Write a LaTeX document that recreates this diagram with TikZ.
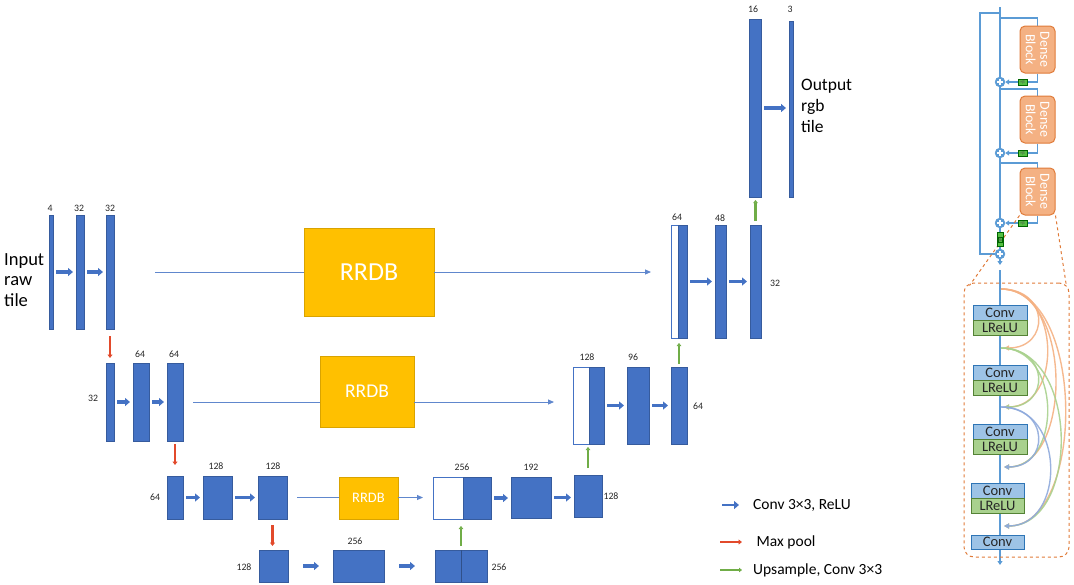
\documentclass[tikz,border=0pt]{standalone}
\usepackage{fontspec}
\setmainfont{Carlito}
\usetikzlibrary{arrows.meta,calc,backgrounds}
\definecolor{cblue}{HTML}{4472C4}
\definecolor{cred}{HTML}{E24A2B}
\definecolor{cgreen}{HTML}{70AD47}
\definecolor{cyel}{HTML}{FFC000}
\definecolor{pblue}{HTML}{5B9BD5}
\definecolor{dorange}{HTML}{F4B183}
\definecolor{dborder}{HTML}{E07B39}
\definecolor{convfill}{HTML}{9DC3E6}
\definecolor{convdraw}{HTML}{2E75B6}
\definecolor{lrfill}{HTML}{A9D18E}
\definecolor{lrdraw}{HTML}{548235}
\definecolor{gbfill}{HTML}{55C043}
\definecolor{ccurve}{HTML}{8FAADC}
\newcommand\blk[6][bar]{\node[#1,minimum width={(#5-#3)*1pt},minimum height={(#6-#4)*1pt}] (#2) at ({(#3+#5)/2},{(#4+#6)/2}) {};}
\tikzset{
 bar/.style={fill=cblue, draw=cblue!80!black, line width=0.4pt, inner sep=0pt, outer sep=0pt},
 wbar/.style={fill=white, draw=cblue, line width=0.8pt, inner sep=0pt, outer sep=0pt},
 lab/.style={font=\fontsize{9.8}{11}\selectfont, text=black!85, inner sep=0pt},
 convarrow/.style={draw=cblue, line width=3.2pt, -{Triangle[length=5pt,width=8pt]}},
 gap/.style={shorten <=3pt, shorten >=3pt},
 pool/.style={draw=cred, line width=2.2pt, -{Triangle[length=3.5pt,width=5pt]}},
 ups/.style={draw=cgreen, line width=2.2pt, -{Triangle[length=3pt,width=4.5pt]}},
 skipl/.style={draw=cblue!85, line width=0.9pt},
 skipa/.style={skipl, -{Triangle[length=6pt,width=5pt]}},
 rrdb/.style={fill=cyel, draw=cyel!85!black, line width=0.6pt, text=white, inner sep=0pt},
 legtext/.style={anchor=west, inner sep=0pt, font=\fontsize{15.5}{17}\selectfont},
 rline/.style={draw=pblue, line width=1.5pt},
 rarrow/.style={rline, -{Triangle[length=4pt,width=5pt]}},
 plus/.style={circle, fill=pblue, draw=pblue, minimum size=10pt, inner sep=0pt,
   path picture={\draw[white,line width=1.2pt] ([yshift=-2.3pt]path picture bounding box.north) -- ([yshift=2.3pt]path picture bounding box.south) ([xshift=2.3pt]path picture bounding box.west) -- ([xshift=-2.3pt]path picture bounding box.east);}},
 dblock/.style={fill=dorange, draw=dborder, line width=1pt, rounded corners=5pt, minimum width=35pt, minimum height=47pt, inner sep=0pt},
 dtext/.style={text=white, align=center, inner sep=0pt, font=\fontsize{14}{14.5}\selectfont},
 gbox/.style={fill=gbfill, draw=green!40!black, line width=0.5pt, inner sep=0pt, font=\fontsize{4.5}{5}\selectfont, text=black!70},
 convb/.style={fill=convfill, draw=convdraw, line width=0.8pt, inner sep=0pt, font=\fontsize{14.5}{15}\selectfont, text=black!85},
 lrb/.style={fill=lrfill, draw=lrdraw, line width=0.8pt, inner sep=0pt, font=\fontsize{14.5}{15}\selectfont, text=black!85},
 ocurve/.style={draw=dorange, line width=1.4pt, opacity=0.9, -{Triangle[length=5pt,width=5pt]}},
 gcurve/.style={draw=lrfill, line width=1.4pt, opacity=0.9, -{Triangle[length=5pt,width=5pt]}},
 bcurve/.style={draw=ccurve, line width=1.4pt, opacity=0.9, -{Triangle[length=5pt,width=5pt]}},
}
\begin{document}
\begin{tikzpicture}[x=1pt,y=-1pt]
\useasboundingbox (0,0) rectangle (1074,584);

% ---------------- row 1
\node[anchor=west, align=left, inner sep=0pt, font=\fontsize{18.5}{20.5}\selectfont] (inp) at (4,280) {Input\\raw\\tile};
\blk{b1}{49}{215}{53}{329}
\blk{b2}{76}{215}{84}{329}
\blk{b3}{106}{215}{114}{329}
\node[lab] (l1) at (50,208) {4};
\node[lab] (l2) at (79,208) {32};
\node[lab] (l3) at (110,208) {32};
\draw[convarrow,gap] (b1.east) -- (b1.east -| b2.west);
\draw[convarrow,gap] (b2.east) -- (b2.east -| b3.west);
\node[rrdb, minimum width=130pt, minimum height=88pt, font=\fontsize{26}{28}\selectfont] (rrdb1) at (369,272) {RRDB};
\blk[wbar]{c1w}{671}{225}{678}{338}
\blk{c1b}{678}{225}{687}{338}
\node[lab] (l4) at (677,217) {64};
\blk{r1e}{715}{225}{726}{338}
\node[lab] (l5) at (720,218) {48};
\blk{r1f}{750}{225}{761}{338}
\node[lab] (l6) at (775,283) {32};
\draw[convarrow,gap] (c1b.east) -- (c1b.east -| r1e.west);
\draw[convarrow,gap] (r1e.east) -- (r1e.east -| r1f.west);
\blk{b16}{749}{19}{761}{197}
\node[lab] (l7) at (753,9) {16};
\blk{b3o}{789}{21}{793}{197}
\node[lab] (l8) at (790,9) {3};
\draw[convarrow,gap] (b16.east) -- (b16.east -| b3o.west);
\node[anchor=west, align=left, inner sep=0pt, font=\fontsize{17.5}{21}\selectfont] (outp) at (801,106) {Output\\rgb\\tile};
\coordinate (t1) at ([xshift=-20pt]c1w.west);
\draw[skipl] ([xshift=41pt]b3.east) -- (rrdb1.west);
\draw[skipa] (rrdb1.east) -- (t1 |- rrdb1.east);
\draw[ups, shorten <=4pt, shorten >=3pt] (r1f.north) -- (r1f.north |- b16.south);

% ---------------- row 2
\blk{r2a}{106}{363}{114}{441}
\node[lab] (l9) at (93,398) {32};
\blk{r2b}{133}{363}{149}{441}
\node[lab] (l10) at (140,354) {64};
\blk{r2c}{167}{363}{183}{441}
\node[lab] (l11) at (174,354) {64};
\draw[convarrow,gap] (r2a.east) -- (r2a.east -| r2b.west);
\draw[convarrow,gap] (r2b.east) -- (r2b.east -| r2c.west);
\draw[pool, shorten <=7pt, shorten >=5pt] (b3.south) -- (r2a.north);
\node[rrdb, minimum width=94pt, minimum height=71pt, font=\fontsize{19.5}{21}\selectfont] (rrdb2) at (367,391.5) {RRDB};
\blk[wbar]{c2w}{573}{367}{589}{444}
\blk{c2b}{589}{367}{604}{444}
\node[lab] (l12) at (587,357) {128};
\blk{r2e}{627}{367}{649}{444}
\node[lab] (l13) at (633,357) {96};
\blk{r2f}{671}{367}{687}{444}
\node[lab] (l14) at (698,406) {64};
\draw[convarrow,gap] (c2b.east) -- (c2b.east -| r2e.west);
\draw[convarrow,gap] (r2e.east) -- (r2e.east -| r2f.west);
\coordinate (t2) at ([xshift=-19pt]c2w.west);
\draw[skipl] ([xshift=10pt]r2c.east) -- (r2c.east -| rrdb2.west);
\draw[skipa] (r2c.east -| rrdb2.east) -- (t2 |- r2c.east);
\draw[ups, shorten <=3pt, shorten >=5pt] (r2f.north) -- (r2f.north |- c1b.south);

% ---------------- row 3
\blk{r3a}{167}{476}{183}{519}
\node[lab] (l15) at (155,497) {64};
\blk{r3b}{203}{476}{232}{519}
\node[lab] (l16) at (216,466) {128};
\blk{r3c}{258}{476}{287}{519}
\node[lab] (l17) at (273,466) {128};
\draw[convarrow,gap] (r3a.east) -- (r3a.east -| r3b.west);
\draw[convarrow,gap] (r3b.east) -- (r3b.east -| r3c.west);
\draw[pool, shorten <=3pt, shorten >=11pt] (r2c.south) -- (r3a.north);
\node[rrdb, minimum width=59pt, minimum height=42pt, font=\fontsize{14.5}{16}\selectfont] (rrdb3) at (368.5,498) {RRDB};
\blk[wbar]{c3w}{433}{477}{463}{519}
\blk{c3b}{463}{477}{491}{519}
\node[lab] (l18) at (462,467) {256};
\blk{r3d}{511}{477}{551}{518}
\node[lab] (l19) at (531,467) {192};
\blk{r3e}{574}{475}{602}{517}
\node[lab] (l20) at (611,496) {128};
\draw[convarrow,gap] (c3b.east) -- (c3b.east -| r3d.west);
\draw[convarrow,gap] (r3d.east) -- (r3d.east -| r3e.west);
\coordinate (t3) at ([xshift=-10pt]c3w.west);
\draw[skipl] ([xshift=10pt]r3c.east) -- (r3c.east -| rrdb3.west);
\draw[skipa] (r3c.east -| rrdb3.east) -- (t3 |- r3c.east);
\draw[ups, shorten <=7pt, shorten >=3pt] (r3e.north) -- (r3e.north |- c2b.south);

% ---------------- row 4
\blk{r4a}{259}{550}{288}{582}
\node[lab] (l21) at (244,567) {128};
\blk{r4b}{333}{550}{384}{582}
\node[lab] (l22) at (355,541) {256};
\blk{r4c}{435}{550}{487}{582}
\draw[cblue!70!black, line width=0.3pt] (r4c.north) -- (r4c.south);
\node[lab] (l23) at (499,567) {256};
\draw[convarrow] ([xshift=15pt]r4a.east) -- ([xshift=-14pt]r4b.west |- r4a.east);
\draw[convarrow] ([xshift=15pt]r4b.east) -- ([xshift=-20pt]r4c.west |- r4b.east);
\draw[pool, shorten <=6pt, shorten >=4pt] (r3c.south) -- (r3c.south |- r4a.north);
\draw[ups, shorten <=4pt, shorten >=7pt] (r4c.north) -- (r4c.north |- c3b.south);

% ---------------- legend
\coordinate (lg1a) at (722,505); \coordinate (lg1b) at (739,505);
\coordinate (lg2a) at (720,542); \coordinate (lg2b) at (742,542);
\coordinate (lg3a) at (720,570); \coordinate (lg3b) at (742,570);
\draw[convarrow, line width=2.6pt] (lg1a) -- (lg1b);
\draw[pool] (lg2a) -- (lg2b);
\draw[ups] (lg3a) -- (lg3b);
\node[legtext] (lt1) at (753,505) {Conv 3×3, ReLU};
\node[legtext] (lt2) at (753,542) {\ Max pool};
\node[legtext] (lt3) at (753,570) {Upsample, Conv 3×3};

% ---------------- right panel: RRDB
\node[plus] (p1) at (1000,82) {};
\node[plus] (p2) at (1000,153) {};
\node[plus] (p3) at (1000,223) {};
\node[plus] (p4) at (1000,254) {};
\node[dblock] (db1) at (1037.5,49.5) {};
\node[dtext, rotate=-90] (dt1) at (db1) {Dense\\Block};
\node[dblock] (db2) at (1037.5,119.5) {};
\node[dtext, rotate=-90] (dt2) at (db2) {Dense\\Block};
\node[dblock] (db3) at (1037.5,191.5) {};
\node[dtext, rotate=-90] (dt3) at (db3) {Dense\\Block};
\node[gbox, minimum width=9pt, minimum height=6pt] (gb1) at (1022.5,82) {×β};
\node[gbox, minimum width=9pt, minimum height=6pt] (gb2) at (1022.5,153) {×β};
\node[gbox, minimum width=9pt, minimum height=6pt] (gb3) at (1022.5,223) {×β};
\node[gbox, minimum width=6pt, minimum height=14pt] (gb4) at (1000,239.5) {};
\node[gbox, rotate=-90] (gt4) at (gb4) {×β};
\coordinate (top) at (1000,7);
\coordinate (tl) at (1000,13);
\coordinate (lc) at (980,254);
\coordinate (br1) at (1000,18);
\coordinate (br2) at (1000,89);
\coordinate (br3) at (1000,163);
\coordinate (o1) at (1000,265);
\coordinate (o2) at (1000,270);
\coordinate (o3) at (1000,565);

\node[draw=dborder, dashed, line width=1pt, rounded corners=10pt, minimum width=105pt, minimum height=274pt, inner sep=0pt] (dbox) at (1016.5,420) {};
\node[convb, minimum width=54pt, minimum height=15pt] (cv1) at (1000,312.5) {Conv};
\node[lrb, minimum width=54pt, minimum height=15pt] (lr1) at (1000,327.5) {LReLU};
\node[convb, minimum width=54pt, minimum height=15pt] (cv2) at (1000,372.5) {Conv};
\node[lrb, minimum width=54pt, minimum height=15pt] (lr2) at (1000,387.5) {LReLU};
\node[convb, minimum width=54pt, minimum height=15pt] (cv3) at (1000,431.5) {Conv};
\node[lrb, minimum width=54pt, minimum height=15pt] (lr3) at (1000,446.5) {LReLU};
\node[convb, minimum width=53pt, minimum height=15pt] (cv4) at (997.5,490.5) {Conv};
\node[lrb, minimum width=53pt, minimum height=15pt] (lr4) at (997.5,505.5) {LReLU};
\node[convb, minimum width=53pt, minimum height=14pt] (cv5) at (997.5,542) {Conv};

\coordinate (s0) at (1001,289);
\coordinate (s1) at (1001,348);
\coordinate (s2) at (1001,407);
\coordinate (s3) at (1001,467);
\coordinate (e1) at (1004,348);
\coordinate (e2) at (1004,407);
\coordinate (e3) at (1004,467);
\coordinate (e4) at (1004,526);
\coordinate (dl) at ([xshift=6pt,yshift=-3pt]dbox.north west);
\coordinate (dr) at ([xshift=-3pt,yshift=-4pt]dbox.north east);

\begin{scope}[on background layer]
\draw[rline] (top) -- (p4.center);
\draw[rline] (tl) -| (lc) -- (p4.west);
\draw[rarrow] (p4.south) -- (o1);
\draw[rarrow] (o2) -- (o3);
\draw[rline] (br1) -| (db1.north);
\draw[rline] (db1.south) |- (gb1.east);
\draw[rarrow] (gb1.west) -- (p1.east);
\draw[rline] (br2) -| (db2.north);
\draw[rline] (db2.south) |- (gb2.east);
\draw[rarrow] (gb2.west) -- (p2.east);
\draw[rline] (br3) -| (db3.north);
\draw[rline] (db3.south) |- (gb3.east);
\draw[rarrow] (gb3.west) -- (p3.east);
\draw[draw=dborder, dashed, line width=1pt] (db3.south west) -- (dl);
\draw[draw=dborder, dashed, line width=1pt] (db3.south east) -- (dr);
% dense connections
\draw[ocurve] (s0) .. controls (1050,289) and (1050,348) .. (e1);
\draw[ocurve] (s0) .. controls (1062,289) and (1062,407) .. (e2);
\draw[ocurve] (s0) .. controls (1073,289) and (1073,467) .. (e3);
\draw[ocurve] (s0) .. controls (1086,289) and (1086,526) .. (e4);
\draw[gcurve] (s1) .. controls (1050,348) and (1050,407) .. (e2);
\draw[gcurve] (s1) .. controls (1062,348) and (1062,467) .. (e3);
\draw[gcurve] (s1) .. controls (1080,348) and (1080,526) .. (e4);
\draw[bcurve] (s2) .. controls (1050,407) and (1050,467) .. (e3);
\draw[bcurve] (s2) .. controls (1066,407) and (1066,526) .. (e4);
\end{scope}
\end{tikzpicture}
\end{document}
